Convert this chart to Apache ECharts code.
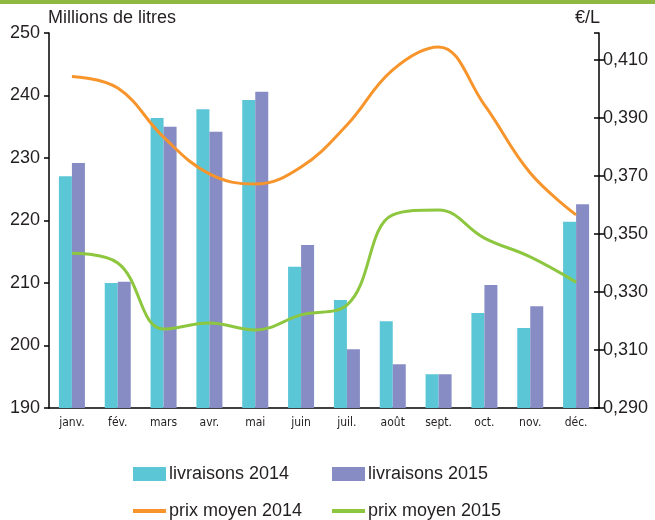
<!DOCTYPE html>
<html>
<head>
<meta charset="utf-8">
<script src="https://cdn.jsdelivr.net/npm/echarts@6/dist/echarts.min.js"></script>
<style>
  html, body { margin: 0; padding: 0; background: #fff; }
  #chart { width: 655px; height: 520px; }
</style>
</head>
<body>
<div id="chart"></div>
<script>
const months = ['janv.', 'fév.', 'mars', 'avr.', 'mai', 'juin', 'juil.', 'août', 'sept.', 'oct.', 'nov.', 'déc.']

// livraisons, millions de litres
const livraisons2014 = [227.1, 210.0, 236.4, 237.8, 239.3, 212.6, 207.3, 203.9, 195.4, 205.2, 202.8, 219.8]
const livraisons2015 = [229.2, 210.2, 235.0, 234.2, 240.6, 216.1, 199.4, 197.0, 195.4, 209.7, 206.3, 222.6]

// prix moyen, €/L
const prix2014 = [0.4043, 0.4003, 0.3834, 0.3707, 0.3672, 0.3731, 0.3876, 0.4066, 0.4145, 0.3945, 0.3710, 0.3566]
const prix2015 = [0.3434, 0.3400, 0.3172, 0.3193, 0.3169, 0.3221, 0.3255, 0.3566, 0.3583, 0.3486, 0.3421, 0.3334]

const leftTicks = { min: 190, max: 250, interval: 10 }
const rightTicks = { min: 0.29, max: 0.4193, interval: 0.02 }

const font = "'Liberation Sans', Arial, sans-serif"
const textColor = '#231f20'

const chart = echarts.init(document.getElementById('chart'))

const legendItem = (name, left, top, h) => ({
  left: left,
  top: top,
  padding: 0,
  data: [{ name: name, icon: 'rect' }],
  itemWidth: 33,
  itemHeight: h,
  itemGap: 0,
  textStyle: { fontFamily: font, fontSize: 18, color: textColor, padding: [0, 0, 0, -2] }
})

const options = {
  animation: false,
  textStyle: { fontFamily: font },
  graphic: [
    { type: 'rect', shape: { x: 0, y: 0, width: 655, height: 4 }, style: { fill: '#8fb843' } }
  ],
  legend: [
    legendItem('livraisons 2014', 133, 465, 14),
    legendItem('livraisons 2015', 332, 465, 14),
    legendItem('prix moyen 2014', 133, 502, 4),
    legendItem('prix moyen 2015', 332, 502, 4)
  ],
  grid: { left: 49, right: 56, top: 33, bottom: 112 },
  xAxis: {
    type: 'category',
    data: months,
    axisLine: { lineStyle: { color: '#000', width: 1.5 } },
    axisTick: { length: 5, lineStyle: { color: '#000', width: 1.5 } },
    axisLabel: {
      fontFamily: "'Liberation Sans Narrow', 'DejaVu Sans Condensed', sans-serif",
      fontSize: 12,
      color: textColor,
      margin: 9,
      interval: 0
    }
  },
  yAxis: [
    {
      type: 'value',
      position: 'left',
      min: leftTicks.min,
      max: leftTicks.max,
      interval: leftTicks.interval,
      name: 'Millions de litres',
      nameLocation: 'end',
      nameGap: 6,
      nameTextStyle: { fontFamily: font, fontSize: 18, color: textColor, align: 'left', padding: [0, 0, 0, -1] },
      axisLine: { show: true, lineStyle: { color: '#000', width: 1.5 } },
      axisTick: { show: true, length: 5, lineStyle: { color: '#000', width: 1.5 } },
      axisLabel: { fontSize: 18, color: textColor, margin: 9 },
      splitLine: { show: false }
    },
    {
      type: 'value',
      position: 'right',
      min: rightTicks.min,
      max: rightTicks.max,
      interval: rightTicks.interval,
      name: '€/L',
      nameLocation: 'end',
      nameGap: 6,
      nameTextStyle: { fontFamily: font, fontSize: 18, color: textColor, align: 'right', padding: [0, -1, 0, 0] },
      axisLine: { show: true, lineStyle: { color: '#000', width: 1.5 } },
      axisTick: { show: true, length: 5, lineStyle: { color: '#000', width: 1.5 } },
      axisLabel: {
        fontSize: 18,
        color: textColor,
        margin: 4,
        showMaxLabel: false,
        formatter: v => v.toFixed(3).replace('.', ',')
      },
      splitLine: { show: false }
    },
    {
      // inner half of the right axis ticks
      type: 'value',
      position: 'right',
      min: rightTicks.min,
      max: rightTicks.max,
      interval: rightTicks.interval,
      axisLine: { show: false },
      axisTick: { show: true, inside: true, length: 5, lineStyle: { color: '#000', width: 1.5 } },
      axisLabel: { show: false },
      splitLine: { show: false }
    }
  ],
  series: [
    {
      name: 'livraisons 2014',
      type: 'bar',
      data: livraisons2014,
      barWidth: 13,
      barGap: '0%',
      itemStyle: { color: '#5bc6d6' }
    },
    {
      name: 'livraisons 2015',
      type: 'bar',
      data: livraisons2015,
      barWidth: 13,
      barGap: '0%',
      itemStyle: { color: '#878dc4' }
    },
    {
      name: 'prix moyen 2014',
      type: 'line',
      yAxisIndex: 1,
      data: prix2014,
      smooth: 0.4,
      symbol: 'none',
      lineStyle: { color: '#f7952c', width: 3 },
      itemStyle: { color: '#f7952c' }
    },
    {
      name: 'prix moyen 2015',
      type: 'line',
      yAxisIndex: 1,
      data: prix2015,
      smooth: 0.4,
      symbol: 'none',
      lineStyle: { color: '#8dc63f', width: 3 },
      itemStyle: { color: '#8dc63f' }
    }
  ]
}

chart.setOption(options)
</script>
</body>
</html>
